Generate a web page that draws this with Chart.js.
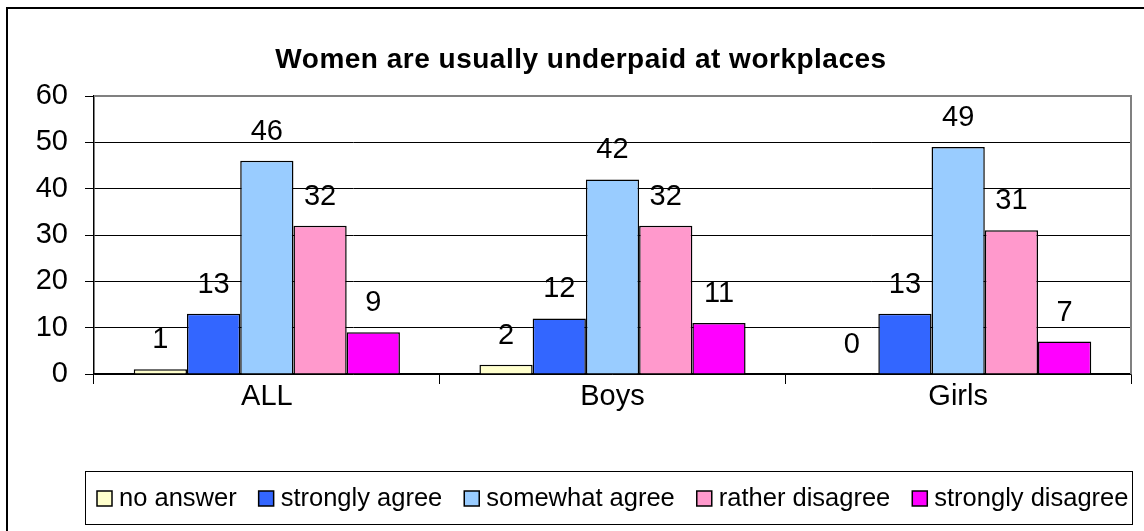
<!DOCTYPE html>
<html>
<head>
<meta charset="utf-8">
<title>Women are usually underpaid at workplaces</title>
<script src="https://cdn.jsdelivr.net/npm/chart.js@4.4.1/dist/chart.umd.min.js"></script>
<style>
    html, body { margin: 0; padding: 0; background: #fff; }
    #wrap { width: 1144px; height: 531px; position: relative; }
</style>
</head>
<body>
<div id="wrap"><canvas id="surveyChart" width="1144" height="531"></canvas></div>
<script>
// Data
const chartTitle = 'Women are usually underpaid at workplaces';
const groups = ['ALL', 'Boys', 'Girls'];
const answers = ['no answer', 'strongly agree', 'somewhat agree', 'rather disagree', 'strongly disagree'];
const noAnswer = [1, 2, 0];
const stronglyAgree = [13, 12, 13];
const somewhatAgree = [46, 42, 49];
const ratherDisagree = [32, 32, 31];
const stronglyDisagree = [9, 11, 7];
const yTicks = [0, 10, 20, 30, 40, 50, 60];

const colors = ['#FFFFCC', '#3366FF', '#99CCFF', '#FF99CC', '#FF00FF'];
const seriesValues = [noAnswer, stronglyAgree, somewhatAgree, ratherDisagree, stronglyDisagree];

const FONT = "'Liberation Sans', Arial, sans-serif";

// Frame, plot border, title, value labels and legend box
const decorations = {
    id: 'decorations',
    afterDatasetsDraw(chart) {
        const ctx = chart.ctx;
        ctx.save();

        // value labels above bars
        ctx.font = `29px ${FONT}`;
        ctx.fillStyle = '#000';
        ctx.textAlign = 'center';
        ctx.textBaseline = 'middle';
        chart.data.datasets.forEach((ds, i) => {
            chart.getDatasetMeta(i).data.forEach((bar, j) => {
                ctx.fillText(String(ds.data[j]), bar.x, bar.y - 29);
            });
        });
        ctx.restore();
    },
    afterDraw(chart) {
        const ctx = chart.ctx;
        const area = chart.chartArea;
        ctx.save();

        // gray plot border (top and right)
        ctx.strokeStyle = '#808080';
        ctx.lineWidth = 2;
        ctx.beginPath();
        ctx.moveTo(area.left, area.top);
        ctx.lineTo(area.right, area.top);
        ctx.lineTo(area.right, area.bottom);
        ctx.stroke();

        // outer frame
        ctx.strokeStyle = '#000';
        ctx.lineWidth = 2;
        ctx.beginPath();
        ctx.moveTo(7, 540);
        ctx.lineTo(7, 8);
        ctx.lineTo(1150, 8);
        ctx.stroke();

        // title
        ctx.font = `bold 28px ${FONT}`;
        ctx.letterSpacing = '0.5px';
        ctx.fillStyle = '#000';
        ctx.textAlign = 'center';
        ctx.textBaseline = 'middle';
        ctx.fillText(chartTitle, 581, 60);
        ctx.letterSpacing = '0px';

        // legend
        const boxL = 85, boxT = 471, boxR = 1132, boxB = 524;
        ctx.strokeStyle = '#000';
        ctx.lineWidth = 1;
        ctx.strokeRect(boxL + 0.5, boxT + 0.5, boxR - boxL, boxB - boxT);
        ctx.font = `25.5px ${FONT}`;
        ctx.textAlign = 'left';
        let x = 97;
        const midY = 498;
        chart.data.datasets.forEach(ds => {
            ctx.fillStyle = ds.backgroundColor;
            ctx.fillRect(x, midY - 7, 15, 15);
            ctx.strokeStyle = '#000';
            ctx.lineWidth = 1.5;
            ctx.strokeRect(x, midY - 7, 15, 15);
            ctx.fillStyle = '#000';
            ctx.fillText(ds.label, x + 22, midY + 1);
            x += 22 + ctx.measureText(ds.label).width + 22;
        });
        ctx.restore();
    }
};

const ctx = document.getElementById('surveyChart').getContext('2d');
new Chart(ctx, {
    type: 'bar',
    data: {
        labels: groups,
        datasets: answers.map((name, i) => ({
            label: name,
            data: seriesValues[i],
            backgroundColor: colors[i],
            borderColor: '#000',
            borderWidth: 1.5,
            categoryPercentage: 0.77,
            barPercentage: 1
        }))
    },
    options: {
        responsive: false,
        animation: false,
        layout: {
            padding: { left: 0, right: 13, top: 96, bottom: 0 }
        },
        plugins: {
            legend: { display: false },
            title: { display: false },
            tooltip: { enabled: false }
        },
        scales: {
            x: {
                afterFit: scale => { scale.height = 157; },
                grid: {
                    offset: true,
                    drawOnChartArea: false,
                    color: '#000',
                    tickLength: 10
                },
                border: { display: true, color: '#000', width: 1.5 },
                ticks: {
                    color: '#000',
                    padding: -4,
                    font: { family: FONT, size: 29 }
                }
            },
            y: {
                min: 0,
                max: 60,
                afterFit: scale => { scale.width = 94; },
                afterBuildTicks: scale => { scale.ticks = yTicks.map(v => ({ value: v })); },
                grid: {
                    color: '#000',
                    lineWidth: 1,
                    tickLength: 9
                },
                border: { display: true, color: '#000', width: 1.5 },
                ticks: {
                    color: '#000',
                    padding: 17,
                    font: { family: FONT, size: 29 }
                }
            }
        }
    },
    plugins: [decorations]
});
</script>
</body>
</html>
